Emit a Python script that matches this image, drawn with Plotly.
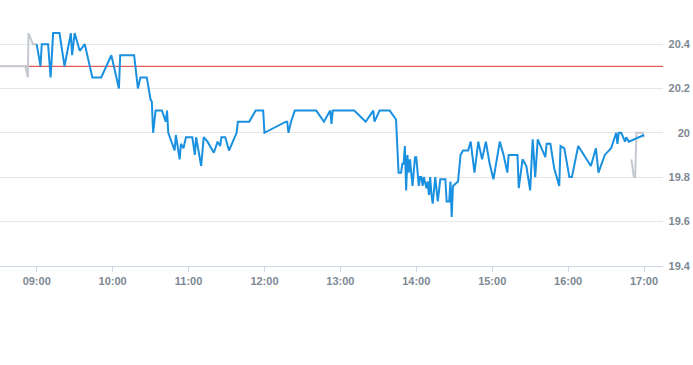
import plotly.graph_objects as go

DAY = "2024-01-02 "

# Pre-market (grey) series
pre_times = ["08:31", "08:51", "08:53", "08:53:30", "08:57", "09:00"]
pre_values = [20.30, 20.30, 20.25, 20.45, 20.40, 20.40]

# Post-market (grey) series
post_times = ["16:50", "16:52", "16:53", "16:54", "16:59", "17:00"]
post_values = [19.88, 19.80, 19.80, 20.00, 20.00, 19.98]

# Regular session (blue) series
times = [
    "09:00", "09:03", "09:04", "09:09", "09:11", "09:13", "09:18", "09:22", "09:27", "09:28",
    "09:30", "09:34", "09:38", "09:44", "09:51", "09:59", "10:05", "10:06", "10:17", "10:20",
    "10:22", "10:27", "10:30", "10:31", "10:32", "10:34", "10:39", "10:42", "10:43", "10:44",
    "10:49", "10:50", "10:53", "10:54", "10:56", "10:58", "11:03", "11:05", "11:06", "11:10",
    "11:12", "11:15", "11:20", "11:23", "11:25", "11:26", "11:29", "11:32", "11:38", "11:39",
    "11:48", "11:53", "11:59", "12:00", "12:17", "12:18", "12:19", "12:21", "12:24", "12:41",
    "12:47", "12:52", "12:53", "12:54", "13:11", "13:20", "13:26", "13:27", "13:31", "13:39",
    "13:44", "13:46", "13:48", "13:49", "13:50", "13:51", "13:52", "13:53", "13:54", "13:55",
    "13:57", "13:59", "14:00", "14:02", "14:03", "14:04", "14:05", "14:06", "14:08", "14:09",
    "14:10", "14:11", "14:12", "14:13", "14:15", "14:17", "14:19", "14:23", "14:24", "14:26",
    "14:27", "14:28", "14:29", "14:33", "14:35", "14:37", "14:41", "14:43", "14:46", "14:49",
    "14:52", "14:55", "14:58", "15:01", "15:06", "15:09", "15:12", "15:13", "15:20", "15:21",
    "15:24", "15:27", "15:30", "15:32", "15:34", "15:36", "15:42", "15:43", "15:46", "15:49",
    "15:53", "15:54", "15:57", "16:01", "16:03", "16:08", "16:18", "16:22", "16:24", "16:29",
    "16:34", "16:35", "16:38", "16:39", "16:40", "16:42", "16:45", "16:46", "16:48", "17:00",
]
values = [
    20.40, 20.30, 20.40, 20.40, 20.25, 20.45, 20.45, 20.30, 20.45, 20.35,
    20.45, 20.37, 20.40, 20.25, 20.25, 20.35, 20.20, 20.35, 20.35, 20.20,
    20.25, 20.25, 20.15, 20.14, 20.00, 20.10, 20.10, 20.05, 20.10, 20.00,
    19.92, 19.99, 19.88, 19.95, 19.93, 19.98, 19.98, 19.90, 19.98, 19.85,
    19.98, 19.96, 19.91, 19.96, 19.94, 19.98, 19.98, 19.92, 20.00, 20.05,
    20.05, 20.10, 20.10, 20.00, 20.05, 20.05, 20.00, 20.05, 20.10, 20.10,
    20.05, 20.10, 20.04, 20.10, 20.10, 20.05, 20.10, 20.05, 20.10, 20.10,
    20.06, 19.82, 19.82, 19.86, 19.86, 19.94, 19.74, 19.90, 19.82, 19.88,
    19.76, 19.89, 19.89, 19.76, 19.80, 19.80, 19.76, 19.80, 19.75, 19.78,
    19.72, 19.80, 19.72, 19.68, 19.80, 19.69, 19.79, 19.79, 19.69, 19.69,
    19.78, 19.62, 19.76, 19.78, 19.90, 19.92, 19.92, 19.96, 19.82, 19.96,
    19.88, 19.96, 19.86, 19.79, 19.96, 19.90, 19.82, 19.90, 19.90, 19.75,
    19.88, 19.85, 19.74, 19.97, 19.80, 19.97, 19.89, 19.95, 19.95, 19.84,
    19.76, 19.94, 19.93, 19.80, 19.80, 19.94, 19.85, 19.93, 19.82, 19.90,
    19.93, 19.95, 20.00, 19.95, 20.00, 20.00, 19.96, 19.98, 19.96, 19.99,
]

prev_close = 20.30

x_range = ["08:31", "17:15"]
y_range = [19.4, 20.5]
y_ticks = [19.4, 19.6, 19.8, 20.0, 20.2, 20.4]

def ts(t):
    if t.count(":") == 1:
        t = t + ":00"
    return DAY + t

# layout geometry (pixels)
W, H = 693, 365
M_T, M_B = 0, 60
PLOT_H = H - M_T - M_B
TOP_PX, BOT_PX = 22, 265.7          # plot area top / bottom in page pixels
d0 = (H - M_B - BOT_PX) / PLOT_H
d1 = (H - M_B - TOP_PX) / PLOT_H
per_frac = (y_range[1] - y_range[0]) / (d1 - d0)
y2_range = [y_range[0] - d0 * per_frac, y_range[1] + (1 - d1) * per_frac]

fig = go.Figure()
fig.add_trace(go.Scatter(x=[ts(t) for t in pre_times], y=pre_values, mode="lines",
                         line=dict(color="#c3c9cf", width=2), hoverinfo="skip"))
fig.add_trace(go.Scatter(x=[ts(t) for t in post_times], y=post_values, mode="lines",
                         line=dict(color="#c3c9cf", width=2), hoverinfo="skip"))
fig.add_trace(go.Scatter(x=[ts(t) for t in times], y=values, mode="lines",
                         line=dict(color="#1a90e0", width=2)))
# carrier trace so the right-hand label axis is drawn
fig.add_trace(go.Scatter(x=[None], y=[None], yaxis="y2", mode="lines",
                         hoverinfo="skip", showlegend=False))
fig.add_hline(y=prev_close, line=dict(color="#d9342b", width=1), layer="below")

font_color = "#7d8893"
tfont = dict(family="Liberation Sans", size=11, color=font_color, weight="bold")
fig.update_layout(
    width=W, height=H,
    margin=dict(l=0, r=0, t=M_T, b=M_B, autoexpand=False),
    paper_bgcolor="white", plot_bgcolor="rgba(0,0,0,0)",
    showlegend=False,
    xaxis=dict(
        type="date", range=[ts(x_range[0]), ts(x_range[1])],
        domain=[0, 663 / 693], automargin=False, anchor="y",
        tickformat="%H:%M", dtick=3600000, tick0=ts("09:00"),
        showgrid=False, showline=True, linecolor="#ccd6eb", linewidth=1,
        ticks="outside", ticklen=5, tickcolor="#ccd6eb",
        tickfont=tfont,
        zeroline=False,
    ),
    yaxis=dict(
        range=y_range, tickvals=y_ticks, automargin=False, domain=[d0, d1],
        showgrid=True, gridcolor="#e6e6e6", gridwidth=1,
        showline=False, zeroline=False, ticks="", showticklabels=False,
    ),
    yaxis2=dict(
        range=y2_range, tickvals=y_ticks, automargin=False, domain=[0, 1],
        side="right", anchor="free", position=1.0,
        ticklabelposition="inside", ticklabelstandoff=0,
        showgrid=False, showline=False, zeroline=False, ticks="",
        tickfont=tfont,
    ),
)

fig.write_html("out.html", config={"displayModeBar": False},
               post_script="document.body.style.margin='0';")
